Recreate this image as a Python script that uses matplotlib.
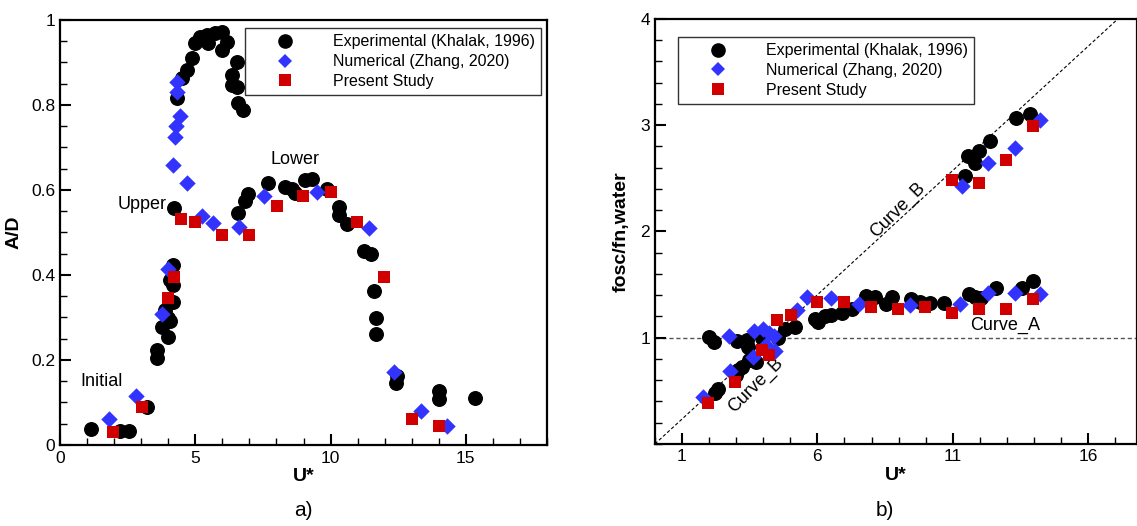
import matplotlib
matplotlib.use("Agg")
import matplotlib.pyplot as plt
from matplotlib.lines import Line2D
from matplotlib.ticker import MultipleLocator, FixedLocator

plt.rcParams['font.family'] = ['Liberation Sans', 'DejaVu Sans']

# ---- panel a) amplitude response A/D vs U*
exp_a_u = [1.13, 2.22, 2.55, 3.23, 3.57, 3.57, 4.0, 3.76, 4.07, 3.88, 4.0, 4.19, 4.07, 4.16,
           4.16, 4.21, 4.31, 4.50, 4.68, 4.87, 4.99, 5.18, 5.42, 5.48, 5.73, 5.97, 5.97, 6.16,
           6.53, 6.35, 6.35, 6.53, 6.59, 6.75, 6.59, 6.84, 6.96, 7.70, 8.32, 8.56, 8.69, 9.06,
           9.30, 9.88, 10.31, 10.31, 10.62, 11.24, 11.48, 11.61, 11.67, 11.67, 12.44, 12.41,
           14.02, 14.02, 15.32]
exp_a_ad = [0.037, 0.033, 0.033, 0.090, 0.204, 0.224, 0.255, 0.277, 0.292, 0.318, 0.298, 0.337,
            0.388, 0.376, 0.424, 0.557, 0.816, 0.863, 0.882, 0.910, 0.945, 0.961, 0.965, 0.945,
            0.969, 0.972, 0.929, 0.949, 0.902, 0.871, 0.847, 0.843, 0.804, 0.788, 0.547, 0.573,
            0.591, 0.616, 0.606, 0.602, 0.592, 0.624, 0.627, 0.602, 0.559, 0.541, 0.520, 0.456,
            0.449, 0.363, 0.298, 0.260, 0.162, 0.145, 0.127, 0.108, 0.111]

num_a_u = [1.81, 2.81, 3.76, 4.0, 4.16, 4.25, 4.29, 4.31, 4.31, 4.44, 4.68, 5.24, 5.67, 6.62,
           7.55, 9.49, 11.42, 12.36, 13.35, 14.29]
num_a_ad = [0.060, 0.116, 0.308, 0.413, 0.659, 0.724, 0.751, 0.831, 0.855, 0.774, 0.617, 0.539,
            0.522, 0.512, 0.586, 0.596, 0.511, 0.172, 0.080, 0.045]

pre_a_u = [1.97, 3.02, 4.0, 4.23, 4.47, 4.99, 6.0, 7.0, 8.01, 8.99, 10.0, 10.99, 11.99, 13.0, 13.99]
pre_a_ad = [0.031, 0.089, 0.347, 0.395, 0.531, 0.524, 0.493, 0.493, 0.562, 0.586, 0.596, 0.524,
            0.395, 0.060, 0.045]

# ---- panel b) frequency ratio vs U*
exp_b_u = [1.99, 2.18, 3.04, 3.41, 3.44, 3.94, 4.55, 4.80, 5.17, 5.90, 6.03, 6.27, 6.52, 6.89,
           7.26, 7.81, 8.12, 8.55, 8.77, 9.47, 9.78, 10.15, 10.66, 11.59, 11.81, 12.05, 12.58,
           13.56, 13.96,
           3.75, 3.48, 3.20, 3.07, 2.99, 2.34, 2.21,
           11.44, 11.57, 11.81, 11.97, 12.39, 13.35, 13.84]
exp_b_f = [1.01, 0.963, 0.969, 0.979, 0.916, 0.995, 0.995, 1.08, 1.10, 1.18, 1.15, 1.205, 1.214,
           1.23, 1.27, 1.393, 1.38, 1.32, 1.38, 1.36, 1.34, 1.33, 1.33, 1.41, 1.38, 1.37, 1.47,
           1.47, 1.53,
           0.775, 0.79, 0.722, 0.697, 0.65, 0.518, 0.477,
           2.52, 2.713, 2.648, 2.757, 2.85, 3.065, 3.11]

num_b_u = [1.78, 2.74, 2.79, 3.63, 3.66, 4.0, 4.12, 4.22, 4.39, 4.43, 5.23, 5.62, 6.52, 7.54,
           9.43, 11.25, 12.30, 13.31, 14.23,
           11.34, 12.30, 13.31, 14.23]
num_b_f = [0.445, 1.016, 0.69, 0.822, 1.066, 1.08, 0.932, 1.04, 1.016, 0.878, 1.26, 1.38, 1.37,
           1.32, 1.31, 1.32, 1.424, 1.424, 1.41,
           2.43, 2.648, 2.79, 3.05]

pre_b_u = [1.97, 2.96, 3.97, 4.22, 4.49, 5.01, 5.99, 6.99, 7.97, 8.98, 9.96, 10.98, 11.97, 12.95,
           13.96, 10.97, 11.97, 12.98, 13.96]
pre_b_f = [0.383, 0.58, 0.885, 0.838, 1.167, 1.214, 1.34, 1.34, 1.29, 1.27, 1.29, 1.236, 1.27,
           1.27, 1.36, 2.485, 2.46, 2.673, 2.99]

curve_b_slope = 0.234

legend_labels = ['Experimental (Khalak, 1996)', 'Numerical (Zhang, 2020)', 'Present Study']
c_exp, c_num, c_pre = 'black', '#3333ff', '#d10000'

fig = plt.figure(figsize=(11.37, 5.26), dpi=100)
axA = fig.add_axes([0.0528, 0.154, 0.4283, 0.808])
axB = fig.add_axes([0.576, 0.156, 0.424, 0.808])


def style(ax):
    for s in ax.spines.values():
        s.set_linewidth(1.6)
    ax.tick_params(which='major', direction='in', length=8, width=1.5, labelsize=12.5)
    ax.tick_params(which='minor', direction='in', length=5, width=1.0)
    ax.tick_params(axis='x', pad=4)


def draw(ax, eu, ev, nu, nv, pu, pv):
    ax.scatter(eu, ev, s=95, marker='o', color=c_exp, zorder=3)
    ax.scatter(nu, nv, s=70, marker='D', color=c_num, linewidths=0, zorder=4)
    ax.scatter(pu, pv, s=75, marker='s', color=c_pre, linewidths=0, zorder=5)


def legend(ax, x, y):
    handles = [Line2D([], [], marker='o', ls='', color=c_exp, markersize=9.5),
               Line2D([], [], marker='D', ls='', color=c_num, markersize=7.5, markeredgewidth=0),
               Line2D([], [], marker='s', ls='', color=c_pre, markersize=8.5, markeredgewidth=0)]
    lg = ax.legend(handles, legend_labels, loc='upper left', bbox_to_anchor=(x, y),
                   fontsize=11.5, frameon=True, fancybox=False, edgecolor='black',
                   handlelength=4.2, handletextpad=0.9, borderpad=0.4, labelspacing=0.3,
                   borderaxespad=0)
    lg.get_frame().set_linewidth(1.0)
    lg.set_zorder(10)


# panel a
draw(axA, exp_a_u, exp_a_ad, num_a_u, num_a_ad, pre_a_u, pre_a_ad)
axA.set_xlim(0, 18)
axA.set_ylim(0, 1)
axA.xaxis.set_major_locator(MultipleLocator(5))
axA.xaxis.set_minor_locator(MultipleLocator(1))
axA.yaxis.set_major_locator(MultipleLocator(0.2))
axA.yaxis.set_minor_locator(MultipleLocator(0.05))
axA.yaxis.set_major_formatter(plt.FuncFormatter(lambda v, p: f'{v:g}'))
style(axA)
axA.set_xlabel('U*', fontsize=14, fontweight='bold', labelpad=2)
axA.set_ylabel('A/D', fontsize=14, fontweight='bold', labelpad=6)
axA.text(3.03, 0.565, 'Upper', fontsize=13, ha='center', va='center')
axA.text(8.69, 0.671, 'Lower', fontsize=13, ha='center', va='center')
axA.text(1.54, 0.149, 'Initial', fontsize=13, ha='center', va='center')
legend(axA, 0.38, 0.981)
fig.text(303 / 1137, 1 - 510 / 526, 'a)', fontsize=15, ha='center', va='center')

# panel b
axB.axhline(1.0, color='#555555', lw=1.0, ls=(0, (3, 2)), zorder=1)
axB.axline((0, 0), slope=curve_b_slope, color='black', lw=0.8, ls=(0, (3, 2)), zorder=1)
draw(axB, exp_b_u, exp_b_f, num_b_u, num_b_f, pre_b_u, pre_b_f)
axB.set_xlim(0, 17.8)
axB.set_ylim(0, 4)
axB.xaxis.set_major_locator(FixedLocator([1, 6, 11, 16]))
axB.xaxis.set_minor_locator(MultipleLocator(1))
axB.yaxis.set_major_locator(FixedLocator([1, 2, 3, 4]))
axB.yaxis.set_minor_locator(MultipleLocator(0.2))
style(axB)
axB.set_xlabel('U*', fontsize=14, fontweight='bold', labelpad=2)
axB.set_ylabel('fosc/fn,water', fontsize=14, fontweight='bold', labelpad=8)
axB.text(12.92, 1.12, 'Curve_A', fontsize=13, ha='center', va='center')
axB.text(3.73, 0.55, 'Curve_B', fontsize=13, ha='center', va='center', rotation=45)
axB.text(8.97, 2.2, 'Curve_B', fontsize=13, ha='center', va='center', rotation=45)
legend(axB, 0.048, 0.958)
fig.text(885 / 1137, 1 - 510 / 526, 'b)', fontsize=15, ha='center', va='center')

fig.savefig('out.png', dpi=100)
